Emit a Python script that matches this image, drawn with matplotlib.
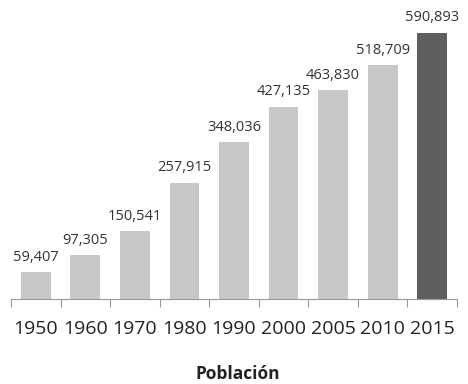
import matplotlib
matplotlib.use("Agg")
import matplotlib.pyplot as plt
import numpy as np

plt.rcParams["font.family"] = ["Open Sans", "DejaVu Sans"]

years = ["1950", "1960", "1970", "1980", "1990", "2000", "2005", "2010", "2015"]
population = [59407, 97305, 150541, 257915, 348036, 427135, 463830, 518709, 590893]
light_grey = "#c8c8c8"
dark_grey = "#5f5f5f"

fig = plt.figure(figsize=(4.68, 3.84), dpi=100)
# axes placed in pixel terms: left 11, right 457, bottom 299, top 20
ax = fig.add_axes([11 / 468, (384 - 299) / 384, (457 - 11) / 468, (299 - 20) / 384])

x = np.arange(len(years))
colors = [light_grey] * (len(years) - 1) + [dark_grey]
bars = ax.bar(x, population, width=0.6, color=colors)

for xi, v in zip(x, population):
    ax.text(xi, v + 17000, f"{v:,}", ha="center", va="bottom", fontsize=10.5, color="#333333")

ax.set_xlim(-0.5, len(years) - 0.5)
ax.set_ylim(0, 590893 * 279 / 266)

for s in ["top", "right", "left"]:
    ax.spines[s].set_visible(False)
ax.spines["bottom"].set_color("#999999")
ax.set_yticks([])

ax.set_xticks(np.arange(-0.5, len(years)), minor=False)
ax.set_xticklabels([])
ax.tick_params(axis="x", which="major", length=6, color="#999999", direction="out")
ax.set_xticks(x, minor=True)
ax.set_xticklabels(years, minor=True, fontsize=14, color="#222222")
ax.tick_params(axis="x", which="minor", length=0, pad=15)

fig.text(238 / 468, 1 - 374 / 384, "Población", ha="center", va="center",
         fontsize=12.5, fontweight="bold", color="#222222")

fig.savefig("out.png", dpi=100)
